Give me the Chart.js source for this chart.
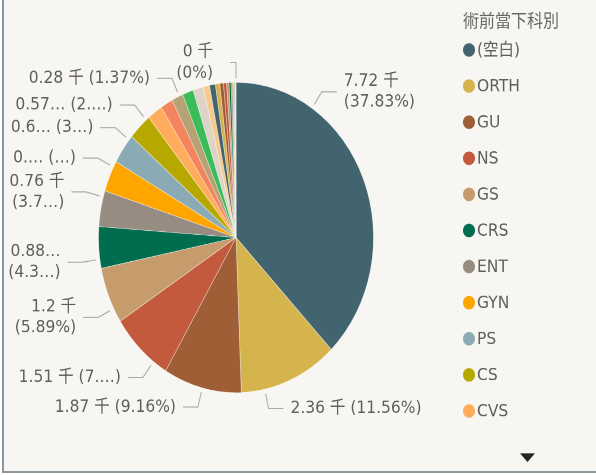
<!DOCTYPE html>
<html><head><meta charset="utf-8">
<script src="https://cdn.jsdelivr.net/npm/chart.js@4/dist/chart.umd.min.js"></script>
<style>
html,body{margin:0;padding:0;background:#fff;width:596px;height:475px;overflow:hidden;}
#frame{position:absolute;left:2px;top:-4px;width:700px;height:477px;box-sizing:border-box;background:#F7F6F2;border-left:2px solid #8A989D;border-bottom:2px solid #8A989D;}
#wrap{position:absolute;left:0;top:0;width:596px;height:421px;transform-origin:0 0;transform:scale(1,1.1283);}
</style></head><body>
<div id="frame"></div>
<div id="wrap"><canvas id="c"></canvas></div>
<script>
// ---- data ----
const legendTitle = "術前當下科別";
const categories = ["(空白)","ORTH","GU","NS","GS","CRS","ENT","GYN","PS","CS","CVS",
  "OPH","PED","TS","DENT","OBS","OMS","DERM","NEURO","ER","MED","ANES","REHAB","RAD","ONC","FM","PSY","HEMA","ICU","OTHER"];
const counts = [7721,2359,1869,1508,1202,879,762,668,641,571,362,
  297,279,262,248,152,139,106,88,75,57,46,36,28,21,15,10,6,3,0];
const palette = ["#42646F","#D5B34D","#A05E37","#C35A3E","#C69C6D","#006D4E","#978C81","#FFA500",
  "#8AAAB4","#B7A800","#FFAD5C","#F2855E","#B5A275","#3BBC5A","#DED3C7","#F6C98D"];
const legendCount = 11;
const unitSuffix = " 千";

// label layout (annotation placement only)
const labelLayout = [
 {i:0, deg:33.6, side:'right', wrap:true},
 {i:1, deg:167.9, side:'right'},
 {i:2, deg:194.2, side:'left'},
 {i:3, deg:216.9, side:'left', pMax:2},
 {i:4, deg:242.8, side:'left', wrap:true},
 {i:5, deg:261.9, side:'left', wrap:true, vMax:4, pMax:3},
 {i:6, deg:285.1, side:'left', wrap:true, pMax:3},
 {i:7, deg:297.0, side:'left', vMax:2, pMax:0},
 {i:8, deg:308.9, side:'left', vMax:3, pMax:1},
 {i:9, deg:319.2, side:'left', vMax:4, pMax:2},
 {i:12, deg:335.6, side:'left'},
 {i:29, deg:0, side:'left', wrap:true, hLen:6, gap:17}
];

const FONT = '15.5px "DejaVu Sans", "Noto Sans CJK TC", sans-serif';
const TEXT = '#605E5C';

function trimNum(x){ let s = x.toFixed(2); s = s.replace(/\.?0+$/,''); return s===''?'0':s; }
function trunc(s,n){ return (n==null || n>=s.length) ? s : s.slice(0,n)+'…'; }

const labelPlugin = {
  id:'pieLabels',
  afterDatasetsDraw(chart){
    const ctx = chart.ctx;
    const meta = chart.getDatasetMeta(0);
    const total = counts.reduce((a,b)=>a+b,0);
    ctx.save();
    ctx.font = FONT;
    ctx.textBaseline = 'middle';
    labelLayout.forEach(L=>{
      const arc = meta.data[L.i];
      const p = arc.getProps(['x','y','startAngle','endAngle','outerRadius'], true);
      let a = L.deg*Math.PI/180 - Math.PI/2;
      const m = 0.5*Math.PI/180;
      if (p.endAngle - p.startAngle > 2*m) a = Math.min(Math.max(a, p.startAngle+m), p.endAngle-m);
      else a = (p.startAngle+p.endAngle)/2;
      const R = p.outerRadius;
      const ex = p.x + (R+4)*Math.cos(a), ey = p.y + (R+4)*Math.sin(a);
      const bx = p.x + (R+17.5)*Math.cos(a), by = p.y + (R+17.5)*Math.sin(a);
      const dir = L.side==='right'?1:-1;
      const hx = bx + dir*(L.hLen||15);
      ctx.strokeStyle = '#A9A9A9';
      ctx.lineWidth = 1;
      ctx.beginPath(); ctx.moveTo(ex,ey); ctx.lineTo(bx,by); ctx.lineTo(hx,by); ctx.stroke();
      const v = counts[L.i];
      const vt = trunc(trimNum(v/1000)+unitSuffix, L.vMax);
      const pt = '(' + trunc(trimNum(v/total*100)+'%', L.pMax) + ')';
      ctx.fillStyle = TEXT;
      ctx.textAlign = L.side==='right'?'left':'right';
      const tx = hx + dir*(L.gap||7);
      if (L.wrap){ ctx.fillText(vt, tx, by-9.3); ctx.fillText(pt, tx, by+9.3); }
      else ctx.fillText(vt+' '+pt, tx, by);
    });
    ctx.restore();
  }
};

const legendPlugin = {
  id:'sideLegend',
  afterDraw(chart){
    const ctx = chart.ctx;
    const ds = chart.data.datasets[0];
    ctx.save();
    ctx.textBaseline = 'middle';
    ctx.textAlign = 'left';
    ctx.fillStyle = '#666';
    ctx.font = '16px "Noto Sans CJK TC", "DejaVu Sans", sans-serif';
    ctx.fillText(legendTitle, 463, 17.7);
    ctx.font = FONT;
    for (let i=0;i<legendCount;i++){
      const y = 44.3 + 32*i;
      ctx.fillStyle = ds.backgroundColor[i];
      ctx.beginPath(); ctx.arc(469, y, 6, 0, Math.PI*2); ctx.fill();
      ctx.fillStyle = TEXT;
      ctx.fillText(chart.data.labels[i], 477, y+0.5);
    }
    ctx.fillStyle = '#252423';
    ctx.beginPath(); ctx.moveTo(520,401.7); ctx.lineTo(535,401.7); ctx.lineTo(527.5,409.5); ctx.closePath(); ctx.fill();
    ctx.restore();
  }
};

new Chart(document.getElementById('c'), {
  type:'pie',
  data:{labels:categories, datasets:[{data:counts,
    backgroundColor: categories.map((_,i)=>palette[i%palette.length]),
    borderColor:'rgba(255,255,255,0.55)', borderWidth:0.6, radius:137.5}]},
  options:{responsive:true, maintainAspectRatio:false, animation:false, devicePixelRatio:2,
    events:[],
    layout:{padding:{left:0,right:124,top:0,bottom:0}},
    plugins:{legend:{display:false}, tooltip:{enabled:false}}},
  plugins:[labelPlugin, legendPlugin]
});
</script>
</body></html>
